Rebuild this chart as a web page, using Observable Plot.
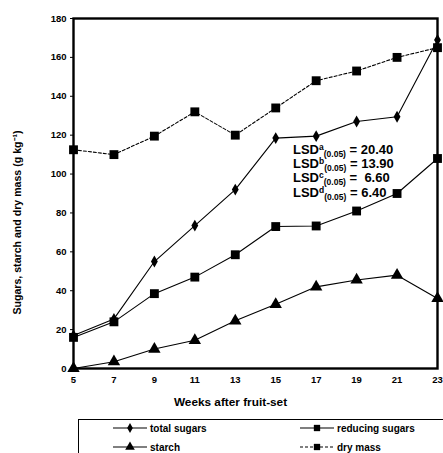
<!DOCTYPE html>
<html>
<head>
<meta charset="utf-8">
<script src="https://cdn.jsdelivr.net/npm/d3@7"></script>
<script src="https://cdn.jsdelivr.net/npm/@observablehq/plot@0.6"></script>
<style>
  html, body { margin: 0; padding: 0; background: #fff; }
  body { width: 443px; height: 453px; position: relative; overflow: hidden; font-family: "Liberation Sans", Arial, sans-serif; }
  #chart { position: absolute; left: 0; top: 0; }
  #lsd { position: absolute; left: 293px; top: 143px; font-weight: bold; font-size: 13px; line-height: 14.2px; color: #000; }
  #lsd sup { font-size: 8.5px; vertical-align: 4px; line-height: 0; }
  #lsd sub { font-size: 8.5px; vertical-align: -3px; line-height: 0; }
  #legend { position: absolute; left: 78px; top: 419px; width: 365px; height: 34px; border-top: 1px solid #000; border-left: 1px solid #000; box-sizing: border-box; }
  .item { position: absolute; display: flex; align-items: center; font-weight: bold; font-size: 10px; }
  .item svg { display: block; margin-right: 3px; }
</style>
</head>
<body>
<div id="chart"></div>
<div id="lsd"></div>
<div id="legend"></div>
<script>
const weeks = [5, 7, 9, 11, 13, 15, 17, 19, 21, 23];
const totalSugars = [17, 25.5, 55, 73.5, 92, 118.5, 119.5, 127, 129.5, 169];
const reducingSugars = [16, 24, 38.5, 47, 58.5, 73, 73.3, 81, 90, 108];
const starch = [0, 3.5, 10, 14.5, 24.5, 33, 42, 45.5, 48, 36];
const dryMass = [112.5, 110, 119.5, 132, 120, 134, 148, 153, 160, 165];
const seriesNames = ["total sugars", "reducing sugars", "starch", "dry mass"];
const yTicks = [0, 20, 40, 60, 80, 100, 120, 140, 160, 180];
const lsdLabels = ["a", "b", "c", "d"];
const lsdValues = ["20.40", "13.90", "\u00A06.60", "6.40"];
const yTitle = "Sugars, starch and dry mass (g kg\u207B\u00B9)";
const xTitle = "Weeks after fruit-set";

const seriesValues = [totalSugars, reducingSugars, starch, dryMass];
const symbols = ["diamond", "square", "triangle", "square"];
const radii = [3.6, 5, 4.6, 5];
const dashes = [null, null, null, "3,2"];

const data = seriesNames.flatMap((name, i) =>
  weeks.map((w, j) => ({ series: name, week: w, value: seriesValues[i][j], idx: i })));

const marks = [];
seriesNames.forEach((name, i) => {
  const d = data.filter(r => r.idx === i);
  marks.push(Plot.line(d, { x: "week", y: "value", stroke: "#000", strokeWidth: 1.1, strokeDasharray: dashes[i] }));
});
seriesNames.forEach((name, i) => {
  const d = data.filter(r => r.idx === i);
  marks.push(Plot.dot(d, { x: "week", y: "value", symbol: () => symbols[i], r: radii[i], fill: "#000", stroke: "none" }));
});

const chart = Plot.plot({
  width: 443,
  height: 415,
  marginLeft: 73,
  marginRight: 6,
  marginTop: 18,
  marginBottom: 47,
  style: { fontFamily: "'Liberation Sans', Arial, sans-serif", background: "#fff", overflow: "visible" },
  x: { domain: [5, 23], ticks: weeks },
  y: { domain: [0, 180], ticks: yTicks },
  symbol: { type: "identity" },
  marks: [
    Plot.axisY({ ticks: yTicks, tickSize: 3, tickPadding: 4, fontSize: 9.5, fontWeight: "bold", label: null }),
    Plot.axisX({ ticks: weeks, tickSize: 0, tickPadding: 8, fontSize: 9.5, fontWeight: "bold", tickFormat: d => String(d), label: null }),
    Plot.text([yTitle], { frameAnchor: "left", rotate: -90, dx: -56, dy: 29, text: d => d, fontSize: 10.6, fontWeight: "bold", fill: "#000", textAnchor: "middle" }),
    Plot.text([xTitle], { frameAnchor: "bottom", dx: -25, dy: 37, text: d => d, fontSize: 11.8, fontWeight: "bold", fill: "#000", textAnchor: "middle" }),
    ...marks,
    Plot.frame({ stroke: "#000", strokeWidth: 2.4 })
  ]
});
document.getElementById("chart").appendChild(chart);

// LSD annotation
document.getElementById("lsd").innerHTML = lsdLabels.map((l, i) =>
  `<div>LSD<sup>${l}</sup><sub>(0.05)</sub> = ${lsdValues[i]}</div>`).join("");

// Legend (HTML, markers drawn as small svgs)
const legendPos = [[34, 2], [221, 2], [34, 21], [221, 21]];
const legend = document.getElementById("legend");
seriesNames.forEach((name, i) => {
  const div = document.createElement("div");
  div.className = "item";
  div.style.left = legendPos[i][0] + "px";
  div.style.top = legendPos[i][1] + "px";
  const sym = d3.symbol(symbols[i] === "diamond" ? d3.symbolDiamond : symbols[i] === "square" ? d3.symbolSquare : d3.symbolTriangle, [28, 40, 40, 40][i])();
  div.innerHTML = `<svg width="34" height="12"><line x1="0" x2="34" y1="6" y2="6" stroke="#000" stroke-width="1.1" ${dashes[i] ? `stroke-dasharray="${dashes[i]}"` : ""}/><path d="${sym}" transform="translate(17,6)" fill="#000"/></svg><span>${name}</span>`;
  legend.appendChild(div);
});
</script>
</body>
</html>
